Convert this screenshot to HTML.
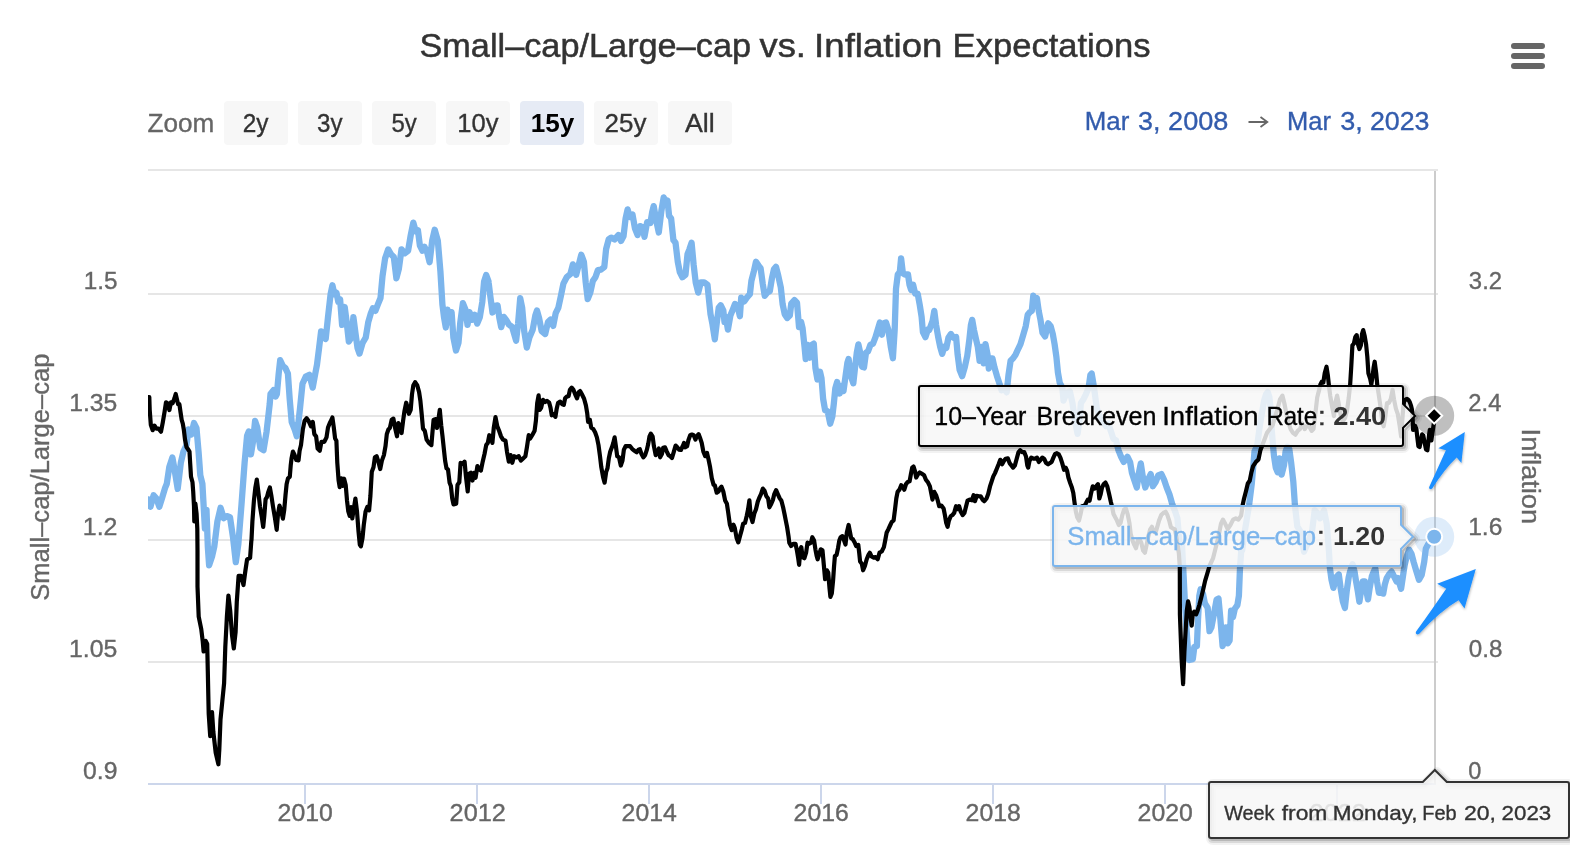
<!DOCTYPE html>
<html><head><meta charset="utf-8"><title>Small-cap/Large-cap vs. Inflation Expectations</title>
<style>html,body{margin:0;padding:0;background:#fff;overflow:hidden}svg{display:block;will-change:transform}text{font-family:"Liberation Sans",sans-serif}</style></head><body>
<svg width="1582" height="860" viewBox="0 0 1582 860">
<defs><clipPath id="plot"><rect x="148" y="160" width="1288" height="625"/></clipPath><filter id="ash" x="-20%" y="-20%" width="140%" height="140%"><feDropShadow dx="0.5" dy="1.5" stdDeviation="1.2" flood-color="#000000" flood-opacity="0.28"/></filter></defs>
<rect width="1582" height="860" fill="#ffffff"/>
<text x="419.46" y="56.8" font-size="33.6" fill="#333333" textLength="331.56" lengthAdjust="spacingAndGlyphs" stroke="#333333" stroke-width="0.5">Small–cap/Large–cap</text>
<text x="759.50" y="56.8" font-size="33.6" fill="#333333" textLength="46.46" lengthAdjust="spacingAndGlyphs" stroke="#333333" stroke-width="0.5">vs.</text>
<text x="814.13" y="56.8" font-size="33.6" fill="#333333" textLength="128.23" lengthAdjust="spacingAndGlyphs" stroke="#333333" stroke-width="0.5">Inflation</text>
<text x="952.61" y="56.8" font-size="33.6" fill="#333333" textLength="197.89" lengthAdjust="spacingAndGlyphs" stroke="#333333" stroke-width="0.5">Expectations</text>
<path d="M1514 46H1542M1514 56H1542M1514 66H1542" stroke="#666666" stroke-width="6" stroke-linecap="round" fill="none"/>
<text x="147.46" y="131.9" font-size="25.2" fill="#666666" textLength="66.78" lengthAdjust="spacingAndGlyphs" stroke="#666666" stroke-width="0.35">Zoom</text>
<rect x="224" y="101" width="64" height="44" rx="4" fill="#f7f7f7"/>
<text x="242.63" y="131.9" font-size="25.2" fill="#333333" textLength="25.79" lengthAdjust="spacingAndGlyphs" stroke="#333333" stroke-width="0.35">2y</text>
<rect x="298" y="101" width="64" height="44" rx="4" fill="#f7f7f7"/>
<text x="317.04" y="131.9" font-size="25.2" fill="#333333" textLength="25.48" lengthAdjust="spacingAndGlyphs" stroke="#333333" stroke-width="0.35">3y</text>
<rect x="372" y="101" width="64" height="44" rx="4" fill="#f7f7f7"/>
<text x="391.45" y="131.9" font-size="25.2" fill="#333333" textLength="25.28" lengthAdjust="spacingAndGlyphs" stroke="#333333" stroke-width="0.35">5y</text>
<rect x="446" y="101" width="64" height="44" rx="4" fill="#f7f7f7"/>
<text x="457.27" y="131.9" font-size="25.2" fill="#333333" textLength="41.15" lengthAdjust="spacingAndGlyphs" stroke="#333333" stroke-width="0.35">10y</text>
<rect x="520" y="101" width="64" height="44" rx="4" fill="#e6ebf5"/>
<text x="530.66" y="131.9" font-size="25.2" fill="#000000" textLength="43.57" lengthAdjust="spacingAndGlyphs" font-weight="bold">15y</text>
<rect x="594" y="101" width="64" height="44" rx="4" fill="#f7f7f7"/>
<text x="604.57" y="131.9" font-size="25.2" fill="#333333" textLength="41.84" lengthAdjust="spacingAndGlyphs" stroke="#333333" stroke-width="0.35">25y</text>
<rect x="668" y="101" width="64" height="44" rx="4" fill="#f7f7f7"/>
<text x="684.90" y="131.9" font-size="25.2" fill="#333333" textLength="29.76" lengthAdjust="spacingAndGlyphs" stroke="#333333" stroke-width="0.35">All</text>
<text x="1084.75" y="130.4" font-size="25.2" fill="#335cad" textLength="44.55" lengthAdjust="spacingAndGlyphs" stroke="#335cad" stroke-width="0.35">Mar</text>
<text x="1138.13" y="130.4" font-size="25.2" fill="#335cad" textLength="22.42" lengthAdjust="spacingAndGlyphs" stroke="#335cad" stroke-width="0.35">3,</text>
<text x="1168.12" y="130.4" font-size="25.2" fill="#335cad" textLength="60.30" lengthAdjust="spacingAndGlyphs" stroke="#335cad" stroke-width="0.35">2008</text>
<text x="1287.08" y="130.4" font-size="25.2" fill="#335cad" textLength="43.92" lengthAdjust="spacingAndGlyphs" stroke="#335cad" stroke-width="0.35">Mar</text>
<text x="1340.33" y="130.4" font-size="25.2" fill="#335cad" textLength="22.53" lengthAdjust="spacingAndGlyphs" stroke="#335cad" stroke-width="0.35">3,</text>
<text x="1369.94" y="130.4" font-size="25.2" fill="#335cad" textLength="59.58" lengthAdjust="spacingAndGlyphs" stroke="#335cad" stroke-width="0.35">2023</text>
<path d="M1248.5 122H1267M1260.5 117L1267.3 122L1260.5 127" stroke="#666666" stroke-width="1.8" fill="none"/>
<rect x="148" y="169" width="1290" height="2" fill="#e6e6e6"/>
<rect x="148" y="293" width="1290" height="2" fill="#e6e6e6"/>
<rect x="148" y="415" width="1290" height="2" fill="#e6e6e6"/>
<rect x="148" y="539" width="1290" height="2" fill="#e6e6e6"/>
<rect x="148" y="661" width="1290" height="2" fill="#e6e6e6"/>
<rect x="148" y="783" width="1288" height="2" fill="#ccd6eb"/>
<rect x="304" y="784" width="2" height="20" fill="#ccd6eb"/>
<text x="277.63" y="820.9" font-size="23.1" fill="#666666" textLength="55.18" lengthAdjust="spacingAndGlyphs" stroke="#666666" stroke-width="0.35">2010</text>
<rect x="476" y="784" width="2" height="20" fill="#ccd6eb"/>
<text x="449.60" y="820.9" font-size="23.1" fill="#666666" textLength="56.30" lengthAdjust="spacingAndGlyphs" stroke="#666666" stroke-width="0.35">2012</text>
<rect x="648" y="784" width="2" height="20" fill="#ccd6eb"/>
<text x="621.63" y="820.9" font-size="23.1" fill="#666666" textLength="55.18" lengthAdjust="spacingAndGlyphs" stroke="#666666" stroke-width="0.35">2014</text>
<rect x="820" y="784" width="2" height="20" fill="#ccd6eb"/>
<text x="793.63" y="820.9" font-size="23.1" fill="#666666" textLength="55.18" lengthAdjust="spacingAndGlyphs" stroke="#666666" stroke-width="0.35">2016</text>
<rect x="992" y="784" width="2" height="20" fill="#ccd6eb"/>
<text x="965.63" y="820.9" font-size="23.1" fill="#666666" textLength="55.18" lengthAdjust="spacingAndGlyphs" stroke="#666666" stroke-width="0.35">2018</text>
<rect x="1164" y="784" width="2" height="20" fill="#ccd6eb"/>
<text x="1137.63" y="820.9" font-size="23.1" fill="#666666" textLength="55.18" lengthAdjust="spacingAndGlyphs" stroke="#666666" stroke-width="0.35">2020</text>
<rect x="1336" y="784" width="2" height="20" fill="#ccd6eb"/>
<text x="1309.60" y="820.9" font-size="23.1" fill="#666666" textLength="56.30" lengthAdjust="spacingAndGlyphs" stroke="#666666" stroke-width="0.35">2022</text>
<text x="83.70" y="288.8" font-size="23.1" fill="#666666" textLength="33.77" lengthAdjust="spacingAndGlyphs" stroke="#666666" stroke-width="0.35">1.5</text>
<text x="69.26" y="410.8" font-size="23.1" fill="#666666" textLength="48.06" lengthAdjust="spacingAndGlyphs" stroke="#666666" stroke-width="0.35">1.35</text>
<text x="82.84" y="534.8" font-size="23.1" fill="#666666" textLength="34.66" lengthAdjust="spacingAndGlyphs" stroke="#666666" stroke-width="0.35">1.2</text>
<text x="69.05" y="656.8" font-size="23.1" fill="#666666" textLength="48.27" lengthAdjust="spacingAndGlyphs" stroke="#666666" stroke-width="0.35">1.05</text>
<text x="83.13" y="778.8" font-size="23.1" fill="#666666" textLength="34.36" lengthAdjust="spacingAndGlyphs" stroke="#666666" stroke-width="0.35">0.9</text>
<text x="1468.87" y="288.8" font-size="23.1" fill="#666666" textLength="33.18" lengthAdjust="spacingAndGlyphs" stroke="#666666" stroke-width="0.35">3.2</text>
<text x="1468.37" y="410.8" font-size="23.1" fill="#666666" textLength="33.04" lengthAdjust="spacingAndGlyphs" stroke="#666666" stroke-width="0.35">2.4</text>
<text x="1468.17" y="534.8" font-size="23.1" fill="#666666" textLength="34.21" lengthAdjust="spacingAndGlyphs" stroke="#666666" stroke-width="0.35">1.6</text>
<text x="1468.75" y="656.8" font-size="23.1" fill="#666666" textLength="33.61" lengthAdjust="spacingAndGlyphs" stroke="#666666" stroke-width="0.35">0.8</text>
<text x="1468.38" y="778.8" font-size="23.1" fill="#666666" textLength="13.08" lengthAdjust="spacingAndGlyphs" stroke="#666666" stroke-width="0.35">0</text>
<text x="-1.01" y="0" font-size="25.2" fill="#666666" textLength="247.06" lengthAdjust="spacingAndGlyphs" stroke="#666666" stroke-width="0.35" transform="translate(49.3,599.7) rotate(-90)">Small–cap/Large–cap</text>
<text x="-2.17" y="0" font-size="25.2" fill="#666666" textLength="95.59" lengthAdjust="spacingAndGlyphs" stroke="#666666" stroke-width="0.35" transform="translate(1522.3,430.7) rotate(90)">Inflation</text>
<rect x="1434" y="171" width="2" height="613" fill="#cccccc"/>
<g clip-path="url(#plot)" fill="none" stroke-linejoin="round" stroke-linecap="round">
<path d="M148.4 499.4 L150.5 506.7 L153.6 495.2 L156.3 498.3 L159.3 506.7 L162.0 498.3 L165.1 487.9 L166.8 483.7 L169.3 467.0 L172.4 457.5 L174.5 469.1 L177.7 488.9 L180.8 462.8 L183.5 451.3 L186.5 445.0 L188.5 429.3 L191.3 434.5 L194.0 423.0 L196.5 428.2 L198.6 452.3 L200.3 475.3 L202.4 483.7 L203.8 508.8 L204.9 528.7 L206.5 509.9 L207.8 546.5 L209.1 565.3 L212.2 555.9 L214.3 546.5 L217.4 521.4 L220.6 507.8 L223.7 518.2 L226.8 516.1 L230.0 517.2 L233.1 538.1 L235.8 562.2 L238.3 544.4 L241.5 504.6 L244.6 462.8 L247.1 435.6 L248.8 431.4 L250.9 454.4 L253.0 441.8 L255.1 420.9 L257.2 427.2 L260.3 448.1 L263.5 450.2 L266.6 431.4 L269.7 404.2 L270.5 394.0 L273.5 390.2 L275.6 396.6 L276.9 394.0 L278.7 373.5 L280.2 360.2 L282.8 365.9 L285.3 367.9 L287.9 373.5 L289.7 399.1 L291.7 422.1 L294.8 429.8 L296.8 436.2 L299.9 409.4 L302.5 383.8 L305.8 376.6 L309.4 374.8 L312.7 387.6 L315.3 373.5 L317.0 364.6 L319.1 347.9 L321.1 331.3 L323.7 333.9 L325.7 339.0 L328.0 317.2 L330.6 294.2 L332.4 285.3 L334.4 294.2 L336.5 292.9 L338.3 301.9 L340.1 299.3 L342.1 324.9 L344.7 307.0 L346.7 322.4 L348.8 341.5 L351.3 337.7 L353.4 317.2 L355.4 332.6 L357.5 347.9 L359.5 353.6 L362.6 342.8 L365.7 337.7 L368.2 322.4 L370.8 313.4 L372.8 308.3 L375.4 310.8 L377.9 304.4 L380.5 298.0 L382.5 276.3 L385.1 258.4 L388.2 249.4 L391.2 254.5 L393.8 257.1 L396.4 278.3 L398.9 268.6 L401.5 249.4 L404.8 253.3 L408.1 250.7 L410.7 235.4 L413.3 222.6 L415.8 231.5 L417.9 230.2 L419.9 245.6 L422.5 250.7 L424.5 246.9 L427.1 252.0 L429.6 262.2 L432.2 240.5 L434.7 229.7 L437.8 240.5 L440.4 271.2 L442.4 304.4 L444.0 317.2 L445.8 327.5 L447.5 309.6 L449.6 322.4 L451.6 312.1 L453.4 337.7 L456.0 350.5 L458.5 342.8 L460.3 322.4 L462.9 303.2 L465.5 309.6 L467.5 324.9 L469.5 312.1 L472.1 319.8 L474.7 314.7 L477.2 323.6 L479.8 317.2 L482.3 301.9 L484.1 281.4 L486.2 275.0 L488.5 281.4 L488.6 282.4 L490.5 297.7 L492.5 312.5 L495.1 305.9 L497.6 305.4 L499.4 318.2 L501.2 327.1 L503.8 316.9 L506.3 320.2 L508.9 324.6 L512.2 327.1 L514.0 333.5 L516.1 340.7 L518.1 323.3 L520.2 298.2 L522.2 307.9 L524.2 331.0 L526.8 347.6 L529.4 337.4 L532.7 329.7 L535.3 315.6 L537.0 310.5 L539.1 318.2 L541.6 331.0 L545.2 334.0 L548.0 322.0 L550.6 319.5 L553.2 325.9 L555.7 313.1 L558.3 307.9 L560.8 296.4 L563.4 283.6 L566.7 277.2 L570.3 274.2 L572.9 264.4 L576.2 274.7 L578.8 264.4 L581.3 254.7 L583.9 261.9 L585.7 282.4 L587.7 299.0 L590.3 292.6 L592.8 281.1 L595.4 277.2 L597.9 270.1 L601.0 269.6 L604.3 267.0 L606.1 249.1 L608.7 239.4 L611.2 237.6 L614.6 239.4 L618.4 235.0 L621.0 240.9 L623.5 236.3 L625.6 218.4 L627.6 209.4 L629.9 217.1 L632.5 214.5 L635.0 228.6 L637.6 235.0 L640.2 226.1 L642.7 227.3 L644.5 236.8 L647.1 222.2 L650.4 223.0 L652.2 212.0 L653.7 206.1 L656.3 220.9 L658.8 232.5 L661.4 210.7 L663.7 197.4 L665.8 203.0 L667.5 200.5 L669.1 215.8 L671.1 218.4 L673.4 240.1 L675.5 242.7 L677.8 261.9 L679.8 272.1 L682.4 277.2 L685.5 274.7 L687.5 254.2 L689.5 249.1 L691.6 242.7 L693.6 264.4 L695.7 282.4 L698.2 292.6 L700.8 282.4 L704.1 282.4 L707.5 284.9 L709.3 302.8 L710.5 314.2 L712.5 324.4 L714.8 339.3 L716.9 321.9 L718.7 307.8 L720.7 305.3 L723.3 310.4 L724.5 321.9 L725.8 316.8 L727.9 329.6 L730.4 315.5 L733.0 309.1 L735.0 304.0 L737.6 306.5 L739.9 316.3 L741.2 297.6 L744.2 301.4 L746.8 297.6 L749.9 294.2 L751.4 280.9 L754.0 270.7 L756.0 261.8 L758.6 265.6 L760.6 268.1 L762.7 283.5 L764.7 295.8 L767.3 292.5 L769.8 291.2 L771.9 278.4 L773.9 269.4 L776.0 266.9 L778.3 275.8 L780.8 287.3 L782.6 304.0 L784.7 314.2 L787.2 318.0 L789.8 315.5 L791.3 303.5 L794.4 300.1 L797.0 302.7 L799.0 327.0 L801.1 321.9 L802.6 328.3 L804.6 347.5 L805.7 359.0 L807.7 344.9 L809.8 357.7 L811.8 344.9 L813.8 343.6 L815.4 367.9 L817.4 379.5 L820.0 371.8 L821.5 378.2 L823.1 398.6 L825.1 410.2 L827.7 411.4 L830.2 423.7 L832.3 416.6 L833.8 403.8 L835.3 388.4 L837.1 382.0 L839.7 393.5 L841.5 385.9 L843.5 391.0 L845.6 375.6 L847.4 362.8 L848.6 359.0 L850.7 375.6 L853.3 383.3 L855.0 367.9 L856.8 352.6 L858.4 344.4 L860.2 352.6 L862.0 366.7 L864.0 367.4 L866.0 352.6 L868.1 351.3 L870.4 344.9 L873.0 343.6 L875.5 337.2 L878.1 328.3 L879.9 322.4 L881.9 334.7 L884.0 323.2 L886.0 322.4 L888.3 329.6 L890.9 347.5 L892.9 358.2 L894.7 329.6 L896.0 288.6 L897.8 274.5 L899.8 272.0 L901.1 258.4 L902.9 273.3 L904.9 274.5 L908.0 274.5 L909.5 284.8 L911.1 289.9 L913.1 284.8 L915.2 293.7 L917.7 293.7 L919.8 305.3 L921.6 316.8 L922.9 332.1 L925.4 337.2 L928.0 329.6 L929.2 330.1 L932.5 321.2 L934.3 310.9 L936.1 325.0 L938.1 336.5 L940.2 346.8 L942.2 353.9 L944.3 346.8 L946.3 348.0 L948.4 337.8 L950.9 334.0 L953.5 337.8 L956.1 337.0 L957.6 354.4 L959.6 369.8 L962.2 376.2 L964.8 367.2 L967.3 355.7 L969.4 339.1 L970.9 325.0 L972.2 319.9 L974.0 330.1 L976.0 339.1 L977.8 346.8 L979.6 360.8 L981.6 346.8 L983.7 363.4 L985.5 344.2 L987.5 354.4 L988.8 368.5 L990.6 358.3 L992.4 358.3 L994.4 367.2 L997.0 376.2 L999.6 383.9 L1001.6 390.3 L1004.2 389.0 L1006.7 392.3 L1008.5 374.9 L1010.6 360.8 L1013.1 358.3 L1015.7 354.4 L1018.0 349.3 L1020.5 344.2 L1023.1 335.3 L1025.7 326.3 L1027.7 314.8 L1029.8 312.2 L1031.8 310.9 L1033.3 295.6 L1035.4 303.3 L1036.9 298.1 L1038.7 310.9 L1040.5 319.9 L1042.5 332.7 L1045.1 336.5 L1046.9 328.9 L1048.2 323.2 L1050.7 326.3 L1052.8 334.0 L1054.6 344.2 L1056.4 357.0 L1057.9 372.4 L1059.7 382.6 L1062.3 387.7 L1063.5 400.5 L1066.6 392.8 L1069.9 391.5 L1072.5 403.1 L1075.0 421.0 L1077.6 433.8 L1079.4 421.0 L1080.9 403.1 L1083.5 399.2 L1086.0 394.1 L1088.6 387.7 L1090.4 374.9 L1091.7 373.6 L1093.2 382.6 L1094.7 392.8 L1096.8 408.2 L1099.4 415.9 L1102.4 421.0 L1105.8 426.1 L1108.3 423.5 L1110.9 431.2 L1113.4 438.9 L1116.0 440.2 L1118.5 450.4 L1121.1 456.8 L1123.7 461.9 L1127.4 456.8 L1130.1 462.1 L1131.9 472.8 L1134.1 479.5 L1136.8 487.5 L1138.9 472.8 L1140.8 463.4 L1142.6 475.5 L1145.3 487.5 L1147.5 480.8 L1150.7 474.1 L1152.8 486.2 L1155.5 482.2 L1158.2 475.5 L1161.4 474.1 L1164.0 479.5 L1166.7 487.5 L1169.4 494.2 L1172.1 503.6 L1174.7 510.3 L1177.4 518.3 L1179.0 537.0 L1180.6 558.4 L1182.0 543.7 L1183.1 566.0 L1184.6 595.8 L1186.5 629.3 L1188.1 651.6 L1189.1 660.0 L1192.8 659.1 L1194.3 647.0 L1196.9 646.0 L1198.0 620.0 L1199.3 595.8 L1200.6 589.3 L1203.0 594.0 L1204.9 603.3 L1207.7 607.9 L1209.5 631.2 L1211.4 627.4 L1214.2 612.6 L1216.6 599.5 L1218.5 598.6 L1220.3 618.1 L1222.6 646.0 L1224.4 640.5 L1225.9 627.4 L1227.8 643.3 L1229.6 640.5 L1231.1 610.7 L1233.0 617.2 L1234.8 608.8 L1237.4 605.1 L1238.9 595.8 L1240.0 567.9 L1241.2 551.2 L1242.2 550.4 L1243.8 537.0 L1246.5 521.0 L1249.1 504.9 L1251.8 483.5 L1254.5 451.4 L1257.2 445.6 L1259.5 428.1 L1261.9 413.0 L1264.2 400.2 L1266.0 394.4 L1267.7 392.1 L1269.3 396.7 L1270.5 407.2 L1271.6 428.1 L1273.0 445.6 L1274.0 456.0 L1275.8 467.7 L1277.7 472.3 L1279.5 458.4 L1281.6 474.7 L1284.0 465.3 L1285.6 451.4 L1287.4 446.7 L1289.3 449.1 L1291.2 463.0 L1293.3 481.6 L1294.9 504.9 L1297.3 526.3 L1300.5 531.7 L1304.0 551.7 L1308.0 542.4 L1312.0 531.7 L1314.7 510.3 L1317.4 512.9 L1320.0 518.3 L1324.0 510.3 L1326.7 523.6 L1328.9 550.4 L1329.9 567.8 L1331.5 579.8 L1333.4 587.9 L1336.1 577.2 L1338.8 574.5 L1340.6 587.9 L1342.8 601.2 L1344.9 607.9 L1346.8 590.5 L1348.7 577.2 L1350.1 571.6 L1352.6 564.3 L1354.5 571.6 L1356.1 581.4 L1357.8 591.2 L1359.4 601.7 L1361.0 591.2 L1362.7 581.4 L1364.8 581.4 L1366.4 591.2 L1368.0 599.3 L1369.7 587.9 L1371.8 576.5 L1373.7 571.6 L1375.3 568.4 L1377.0 581.4 L1378.9 592.8 L1381.0 592.8 L1383.2 593.6 L1384.8 584.6 L1386.7 578.1 L1389.2 574.1 L1391.6 571.6 L1394.1 576.5 L1396.5 581.4 L1398.1 578.1 L1399.8 584.6 L1401.1 588.7 L1402.7 578.1 L1404.6 565.1 L1407.1 555.3 L1409.2 549.7 L1411.5 553.7 L1413.6 561.9 L1416.0 570.0 L1419.0 579.8 L1421.7 574.9 L1424.2 561.9 L1425.8 548.8 L1428.3 544.0 L1433.5 536.6" stroke="#7cb5ec" stroke-width="6.3"/>
<path d="M148.2 397.1 L149.3 397.1 L149.7 409.8 L150.8 424.7 L152.7 430.2 L154.5 425.6 L156.4 428.7 L158.6 428.7 L161.0 431.7 L162.7 422.8 L164.6 411.6 L166.0 402.3 L167.5 403.3 L169.4 410.1 L170.9 402.3 L172.6 403.3 L174.4 398.6 L175.7 394.0 L177.2 400.5 L178.1 404.2 L179.4 404.2 L180.6 412.6 L181.7 420.0 L182.8 423.7 L183.9 430.2 L185.0 439.5 L186.5 447.0 L188.0 449.2 L189.5 451.6 L190.2 463.7 L191.0 476.7 L192.5 482.3 L193.2 491.6 L194.0 506.5 L194.3 521.4 L195.4 503.7 L196.6 514.0 L197.3 528.8 L197.5 550.2 L197.5 586.5 L198.7 616.7 L201.2 628.8 L202.7 640.9 L203.6 651.5 L205.7 640.9 L207.2 643.9 L207.8 671.1 L208.7 713.5 L210.2 736.1 L212.0 712.0 L213.3 731.6 L215.7 752.8 L218.4 764.3 L219.3 749.7 L220.5 719.5 L222.3 701.4 L224.1 683.2 L225.3 647.0 L226.9 616.7 L228.4 595.6 L230.2 610.7 L232.0 634.9 L233.8 648.5 L235.6 631.9 L236.8 601.6 L238.6 575.9 L241.1 575.9 L243.5 585.0 L245.3 571.4 L247.1 559.3 L250.1 557.8 L251.3 541.2 L251.5 540.0 L252.4 521.4 L253.9 500.9 L255.3 487.9 L256.8 479.5 L258.3 491.6 L260.0 506.5 L261.9 517.7 L263.2 527.0 L264.3 515.8 L265.6 499.1 L266.9 497.2 L268.4 491.6 L269.9 487.5 L271.3 495.3 L273.0 506.5 L274.9 517.7 L276.7 529.8 L278.0 514.0 L279.5 505.6 L281.0 510.2 L282.9 518.6 L284.2 510.2 L285.5 495.3 L286.6 484.2 L287.9 478.6 L289.8 476.7 L290.7 465.6 L291.6 458.1 L292.9 451.6 L294.4 454.4 L296.3 460.0 L298.5 460.4 L299.6 450.7 L301.0 445.1 L302.8 429.7 L304.6 420.8 L306.6 418.2 L308.8 421.3 L311.0 426.4 L312.8 421.9 L314.3 434.1 L316.1 436.3 L317.6 448.5 L319.8 450.7 L321.4 441.8 L324.3 441.8 L326.5 437.4 L328.0 427.5 L329.8 423.0 L331.5 419.7 L332.4 417.5 L333.8 427.5 L335.1 438.5 L336.4 440.7 L337.3 462.8 L338.6 480.5 L339.7 487.1 L341.3 478.3 L342.6 486.0 L344.1 478.7 L345.7 484.9 L347.0 500.4 L348.3 511.4 L349.7 515.9 L351.0 507.0 L352.3 518.5 L354.1 507.0 L355.4 498.6 L357.0 511.4 L358.5 531.3 L359.8 544.6 L360.9 546.4 L362.5 538.0 L363.8 524.7 L365.6 511.4 L367.3 507.0 L369.1 510.3 L370.4 496.0 L371.8 471.7 L373.5 467.2 L374.9 457.3 L376.6 456.2 L378.4 461.7 L380.2 469.0 L381.9 460.6 L383.9 455.1 L385.5 446.2 L386.8 434.1 L388.3 429.7 L389.9 427.9 L391.7 419.7 L393.4 418.6 L395.0 427.5 L397.0 436.3 L398.3 423.0 L400.1 426.4 L401.6 433.0 L403.1 420.8 L404.5 410.9 L406.2 402.7 L407.6 407.6 L408.9 413.8 L410.7 409.8 L412.0 394.3 L413.3 385.5 L415.1 382.2 L417.3 385.5 L419.1 392.1 L420.4 400.9 L421.7 414.2 L423.0 428.6 L424.8 430.8 L426.6 439.6 L428.8 442.9 L431.4 445.1 L432.5 431.9 L433.6 419.7 L435.9 419.1 L437.0 427.9 L438.5 418.6 L439.8 409.8 L441.2 425.2 L442.5 436.3 L443.8 448.5 L445.1 460.6 L446.5 468.3 L448.0 469.4 L449.6 482.7 L450.9 486.0 L452.2 498.2 L453.5 504.4 L456.2 503.7 L457.5 484.9 L459.3 482.3 L460.6 462.8 L462.8 463.9 L464.6 461.7 L465.9 476.1 L467.7 491.5 L469.0 473.9 L470.8 472.8 L472.5 480.5 L473.9 472.8 L475.6 477.8 L477.4 466.1 L479.2 469.4 L480.9 470.6 L482.7 461.7 L484.5 454.0 L486.2 445.1 L487.8 442.9 L489.3 435.2 L491.1 438.5 L492.4 442.9 L493.8 427.5 L495.5 417.1 L497.3 426.4 L499.1 430.8 L501.0 436.3 L503.0 439.6 L505.5 440.7 L507.0 451.8 L508.8 461.7 L510.6 455.1 L512.3 462.8 L514.1 456.2 L516.5 457.3 L518.7 456.2 L520.9 460.6 L523.1 458.4 L525.4 456.2 L526.9 447.3 L528.7 435.2 L530.2 438.5 L532.2 435.2 L534.6 430.8 L535.9 420.8 L537.2 403.1 L538.6 395.4 L539.9 409.8 L541.2 407.6 L543.0 399.8 L544.8 402.0 L547.0 400.9 L549.2 402.7 L550.5 407.6 L551.8 415.3 L553.6 414.2 L555.4 416.9 L556.7 408.7 L558.0 403.1 L560.2 401.6 L562.4 404.3 L563.8 404.9 L565.1 398.3 L566.9 396.5 L568.6 396.1 L569.9 389.9 L571.7 387.7 L573.5 389.9 L575.2 394.3 L577.0 398.3 L578.8 392.1 L580.1 391.0 L581.9 394.3 L584.1 398.7 L585.9 405.4 L587.2 413.1 L588.1 421.9 L589.8 419.7 L591.2 427.5 L593.4 429.2 L595.1 432.3 L596.9 437.4 L598.5 445.1 L600.0 456.2 L601.3 467.2 L603.1 477.2 L604.6 482.7 L606.2 471.7 L607.5 468.3 L608.8 458.4 L610.2 451.8 L611.9 447.3 L613.3 442.9 L614.6 437.4 L615.9 446.2 L617.2 456.2 L619.0 457.3 L620.8 465.5 L622.5 460.6 L623.9 449.6 L625.6 446.2 L627.8 446.2 L630.1 446.2 L632.3 449.1 L634.5 450.7 L636.7 452.2 L638.5 449.6 L639.8 449.1 L641.5 454.0 L643.3 457.3 L645.1 455.1 L646.9 449.6 L648.2 444.0 L649.5 436.3 L650.8 433.6 L652.6 436.3 L653.9 446.2 L655.7 455.1 L657.5 452.9 L658.8 448.5 L660.1 457.3 L661.9 454.0 L663.2 447.8 L665.0 447.3 L666.7 451.3 L668.5 455.1 L670.3 456.2 L672.0 458.0 L673.8 451.8 L675.6 445.6 L677.3 447.3 L679.1 449.6 L680.9 450.0 L682.7 446.2 L684.0 442.9 L685.3 447.3 L687.1 446.2 L688.4 440.3 L690.2 435.2 L691.9 434.5 L693.7 435.2 L695.5 439.6 L696.8 436.3 L698.6 434.1 L699.9 437.4 L701.7 442.9 L703.4 451.8 L705.2 456.2 L707.0 452.9 L708.3 458.4 L710.1 467.2 L711.8 478.3 L713.6 484.9 L714.9 485.4 L716.7 492.7 L718.5 491.5 L720.2 488.2 L721.5 486.7 L723.3 491.5 L725.1 500.4 L726.9 503.7 L728.2 512.5 L729.9 524.7 L731.7 530.2 L733.5 524.7 L734.8 528.0 L736.6 538.0 L738.3 542.4 L740.1 535.7 L741.9 529.1 L743.2 523.6 L745.0 522.9 L746.7 515.9 L748.1 509.2 L749.4 500.4 L750.7 515.9 L752.5 522.0 L754.3 513.6 L756.0 509.2 L757.8 501.5 L759.6 497.1 L761.0 494.1 L762.8 488.6 L764.6 490.8 L766.4 496.3 L768.1 498.5 L769.4 507.3 L771.2 504.0 L773.0 499.6 L774.3 494.1 L776.1 490.1 L777.8 494.1 L779.6 498.1 L781.4 500.7 L783.1 507.3 L784.5 514.0 L785.8 520.6 L787.1 527.2 L788.5 536.1 L789.3 542.7 L791.1 546.0 L793.3 543.8 L795.5 543.8 L796.9 550.4 L798.2 558.2 L799.1 564.8 L800.4 549.3 L801.3 547.1 L802.6 557.1 L804.4 558.2 L806.1 552.7 L807.5 542.7 L809.2 543.8 L811.0 542.7 L812.3 537.2 L814.1 540.5 L815.4 549.3 L816.7 556.0 L817.6 559.3 L819.4 553.8 L820.7 549.3 L822.5 550.4 L823.8 564.8 L825.1 579.2 L826.9 570.3 L828.2 572.5 L829.6 589.1 L830.4 596.9 L831.8 593.5 L833.1 580.3 L834.0 567.0 L834.9 556.0 L836.6 554.9 L838.0 548.2 L839.3 540.5 L840.6 537.2 L842.4 536.1 L844.1 540.5 L845.5 544.5 L846.8 532.8 L848.6 525.0 L849.9 531.7 L851.2 538.3 L853.0 539.4 L854.8 542.7 L856.1 546.0 L858.3 544.9 L859.2 552.7 L860.1 561.5 L861.8 563.7 L863.1 570.3 L864.9 565.9 L866.7 559.3 L868.5 554.9 L869.8 552.7 L871.5 556.4 L873.8 557.7 L875.5 557.1 L877.7 559.3 L879.5 552.7 L881.7 551.5 L883.9 547.1 L885.2 540.5 L886.6 532.8 L888.3 529.4 L890.1 525.5 L891.9 521.7 L893.6 520.6 L895.0 509.6 L896.3 498.5 L897.6 491.9 L899.4 489.7 L901.2 485.2 L902.9 487.0 L904.3 489.7 L906.0 484.1 L907.8 481.9 L909.6 481.3 L910.9 474.2 L912.2 467.6 L913.5 466.5 L914.9 470.9 L916.2 477.5 L918.0 474.2 L919.7 472.4 L921.9 473.8 L924.1 475.3 L925.9 479.7 L928.1 482.6 L929.9 486.4 L931.2 493.0 L932.5 499.6 L934.3 491.9 L936.1 495.2 L937.8 500.7 L939.2 506.2 L941.4 505.6 L943.6 508.5 L944.9 515.1 L946.2 522.8 L947.6 526.8 L948.9 520.6 L950.7 516.2 L952.4 515.1 L954.2 512.9 L956.0 506.2 L957.7 509.1 L959.1 506.2 L960.8 511.8 L962.6 515.1 L964.4 512.9 L966.1 506.2 L967.5 500.7 L969.7 499.6 L971.9 500.3 L973.6 495.2 L975.0 501.2 L976.7 495.9 L979.0 496.3 L980.7 496.3 L982.5 499.6 L984.3 501.2 L986.5 498.5 L988.2 494.1 L990.0 486.4 L991.5 481.9 L993.3 476.4 L995.0 473.1 L996.8 468.7 L998.6 464.3 L1000.3 459.8 L1002.1 464.3 L1003.9 460.9 L1005.6 458.7 L1007.8 458.3 L1009.6 463.1 L1011.4 465.4 L1013.1 467.6 L1014.9 465.4 L1016.7 458.7 L1018.5 452.1 L1020.2 450.3 L1022.0 452.1 L1024.2 452.1 L1026.0 456.5 L1027.3 465.4 L1028.2 467.6 L1029.5 460.9 L1031.3 457.6 L1033.5 458.7 L1035.2 458.7 L1037.0 457.6 L1038.8 462.0 L1040.6 459.8 L1042.3 457.6 L1044.1 458.7 L1045.9 462.7 L1048.1 464.3 L1049.8 463.1 L1051.6 462.0 L1053.4 457.6 L1055.1 453.9 L1056.9 453.2 L1058.7 454.3 L1060.4 457.6 L1062.2 463.1 L1064.0 469.8 L1065.7 467.6 L1067.1 470.9 L1068.4 477.5 L1070.2 483.0 L1071.9 487.5 L1073.3 493.0 L1074.6 502.9 L1075.9 511.8 L1077.2 517.3 L1079.0 520.6 L1080.6 514.0 L1082.1 506.2 L1084.3 506.2 L1086.1 502.9 L1087.8 499.6 L1089.6 500.7 L1090.9 494.1 L1092.7 486.4 L1094.5 488.6 L1096.2 486.4 L1098.0 484.1 L1099.3 498.5 L1100.7 494.1 L1102.0 487.5 L1103.8 484.1 L1105.5 482.6 L1107.3 486.4 L1109.1 494.1 L1110.8 501.8 L1112.2 507.3 L1113.5 514.0 L1115.2 517.3 L1117.0 520.6 L1118.8 525.0 L1120.6 522.8 L1122.3 515.1 L1124.1 509.6 L1125.9 508.5 L1127.6 514.0 L1129.4 522.8 L1130.7 533.9 L1132.5 540.5 L1134.3 544.9 L1136.0 548.2 L1137.8 540.5 L1139.6 539.4 L1141.3 542.7 L1143.1 550.4 L1144.9 552.7 L1146.6 544.9 L1148.4 536.1 L1150.2 529.4 L1151.9 526.8 L1153.7 531.7 L1155.5 532.8 L1157.2 527.2 L1159.0 520.6 L1161.2 515.1 L1163.4 512.9 L1165.6 511.8 L1167.4 515.1 L1169.2 520.6 L1170.9 527.2 L1172.7 528.3 L1174.9 529.4 L1176.2 536.1 L1177.6 544.9 L1178.9 553.8 L1179.8 567.0 L1179.9 614.4 L1181.6 659.1 L1183.1 684.2 L1184.4 651.6 L1185.7 629.3 L1186.8 610.7 L1188.1 601.4 L1189.4 607.0 L1190.6 618.1 L1191.7 625.6 L1192.8 614.4 L1194.3 611.6 L1196.1 614.4 L1197.6 610.7 L1199.3 605.1 L1201.2 597.7 L1203.0 590.2 L1205.1 580.9 L1207.3 573.5 L1209.5 566.0 L1213.0 558.4 L1215.7 547.7 L1218.4 537.0 L1221.0 523.6 L1222.9 519.6 L1225.1 523.6 L1227.7 529.0 L1230.4 525.0 L1233.1 519.6 L1235.8 518.3 L1238.4 519.6 L1241.1 515.6 L1242.7 504.9 L1243.8 499.6 L1245.9 491.5 L1247.8 483.5 L1249.7 480.8 L1251.3 472.8 L1253.1 466.1 L1255.8 462.1 L1258.5 459.4 L1260.4 450.1 L1262.0 446.1 L1264.2 440.2 L1267.0 432.8 L1269.8 429.1 L1272.6 425.3 L1275.3 416.0 L1278.1 406.7 L1280.0 399.3 L1282.4 395.6 L1284.3 403.0 L1286.5 414.2 L1288.7 423.5 L1290.6 429.1 L1293.0 432.8 L1295.4 434.7 L1297.7 430.9 L1299.9 429.1 L1302.3 423.5 L1304.7 429.1 L1307.0 425.3 L1309.2 426.3 L1311.6 430.9 L1313.5 429.1 L1315.3 414.2 L1317.2 397.4 L1319.1 390.0 L1320.4 384.4 L1321.9 381.6 L1323.3 382.6 L1324.7 373.3 L1326.5 366.7 L1327.8 375.1 L1328.9 385.3 L1330.2 395.6 L1332.1 406.7 L1334.0 416.0 L1335.3 403.0 L1337.1 395.6 L1338.6 403.0 L1340.5 414.2 L1342.7 421.6 L1345.1 417.9 L1347.0 410.5 L1348.8 397.4 L1350.1 385.3 L1351.3 365.8 L1352.4 345.3 L1353.9 343.5 L1355.3 337.0 L1356.7 335.1 L1358.0 344.4 L1359.4 349.1 L1360.9 345.3 L1362.0 334.2 L1363.2 330.1 L1364.7 336.0 L1366.1 344.4 L1367.3 356.5 L1368.4 373.3 L1370.2 378.8 L1371.3 384.4 L1372.5 377.0 L1373.6 367.7 L1374.7 361.7 L1376.2 373.3 L1377.3 385.3 L1378.6 393.7 L1380.5 406.7 L1382.3 421.6 L1383.6 426.3 L1385.1 417.9 L1387.0 403.0 L1388.8 403.0 L1390.7 399.3 L1392.6 390.0 L1394.0 399.3 L1395.9 408.6 L1397.8 414.2 L1399.6 425.3 L1401.1 436.5 L1402.2 421.6 L1403.3 406.7 L1404.1 401.4 L1405.6 399.6 L1407.0 398.8 L1408.6 400.2 L1409.8 402.2 L1411.1 405.9 L1411.9 409.5 L1412.5 414.4 L1412.7 418.5 L1412.8 422.6 L1413.0 427.5 L1413.1 429.9 L1413.5 428.3 L1415.1 425.8 L1416.4 429.1 L1417.3 437.2 L1418.4 446.2 L1419.6 447.0 L1420.8 440.5 L1422.1 434.4 L1423.3 435.6 L1424.5 442.1 L1426.0 449.4 L1427.4 450.3 L1428.2 442.9 L1429.0 435.6 L1429.8 429.9 L1430.6 435.6 L1431.4 440.5 L1432.2 434.0 L1433.1 428.3 L1433.9 422.6 L1434.3 415.7" stroke="#000000" stroke-width="4.2"/>
</g>
<circle cx="1434.2" cy="536.8" r="20" fill="#7cb5ec" fill-opacity="0.25"/>
<circle cx="1434.2" cy="415.7" r="20" fill="#000000" fill-opacity="0.25"/>
<circle cx="1434.2" cy="536.8" r="8" fill="#7cb5ec" stroke="#ffffff" stroke-width="2"/>
<path d="M1434.2 407.7L1442.2 415.7L1434.2 423.7L1426.2 415.7Z" fill="#000000" stroke="#ffffff" stroke-width="2"/>
<path d="M1211 782H1422.8L1434.8 770L1446.8 782H1567Q1569 782 1569 784V836Q1569 838 1567 838H1211Q1209 838 1209 836V784Q1209 782 1211 782Z" transform="translate(2,2)" fill="none" stroke="#000000" stroke-opacity="0.05" stroke-width="10" stroke-linejoin="round"/><path d="M1211 782H1422.8L1434.8 770L1446.8 782H1567Q1569 782 1569 784V836Q1569 838 1567 838H1211Q1209 838 1209 836V784Q1209 782 1211 782Z" transform="translate(2,2)" fill="none" stroke="#000000" stroke-opacity="0.1" stroke-width="6" stroke-linejoin="round"/><path d="M1211 782H1422.8L1434.8 770L1446.8 782H1567Q1569 782 1569 784V836Q1569 838 1567 838H1211Q1209 838 1209 836V784Q1209 782 1211 782Z" transform="translate(2,2)" fill="none" stroke="#000000" stroke-opacity="0.15" stroke-width="2" stroke-linejoin="round"/><path d="M1211 782H1422.8L1434.8 770L1446.8 782H1567Q1569 782 1569 784V836Q1569 838 1567 838H1211Q1209 838 1209 836V784Q1209 782 1211 782Z" fill="#f7f7f7" fill-opacity="0.85" stroke="#333333" stroke-width="2"/>
<text x="1224.20" y="819.9" font-size="21" fill="#333333" textLength="50.29" lengthAdjust="spacingAndGlyphs" stroke="#333333" stroke-width="0.35">Week</text>
<text x="1281.70" y="819.9" font-size="21" fill="#333333" textLength="45.69" lengthAdjust="spacingAndGlyphs" stroke="#333333" stroke-width="0.35">from</text>
<text x="1332.75" y="819.9" font-size="21" fill="#333333" textLength="84.90" lengthAdjust="spacingAndGlyphs" stroke="#333333" stroke-width="0.35">Monday,</text>
<text x="1422.20" y="819.9" font-size="21" fill="#333333" textLength="34.38" lengthAdjust="spacingAndGlyphs" stroke="#333333" stroke-width="0.35">Feb</text>
<text x="1463.90" y="819.9" font-size="21" fill="#333333" textLength="32.01" lengthAdjust="spacingAndGlyphs" stroke="#333333" stroke-width="0.35">20,</text>
<text x="1501.64" y="819.9" font-size="21" fill="#333333" textLength="49.63" lengthAdjust="spacingAndGlyphs" stroke="#333333" stroke-width="0.35">2023</text>
<path d="M1055 506H1399Q1401 506 1401 508V524.8L1413 536.8L1401 548.8V564Q1401 566 1399 566H1055Q1053 566 1053 564V508Q1053 506 1055 506Z" transform="translate(2,2)" fill="none" stroke="#000000" stroke-opacity="0.05" stroke-width="10" stroke-linejoin="round"/><path d="M1055 506H1399Q1401 506 1401 508V524.8L1413 536.8L1401 548.8V564Q1401 566 1399 566H1055Q1053 566 1053 564V508Q1053 506 1055 506Z" transform="translate(2,2)" fill="none" stroke="#000000" stroke-opacity="0.1" stroke-width="6" stroke-linejoin="round"/><path d="M1055 506H1399Q1401 506 1401 508V524.8L1413 536.8L1401 548.8V564Q1401 566 1399 566H1055Q1053 566 1053 564V508Q1053 506 1055 506Z" transform="translate(2,2)" fill="none" stroke="#000000" stroke-opacity="0.15" stroke-width="2" stroke-linejoin="round"/><path d="M1055 506H1399Q1401 506 1401 508V524.8L1413 536.8L1401 548.8V564Q1401 566 1399 566H1055Q1053 566 1053 564V508Q1053 506 1055 506Z" fill="#f7f7f7" fill-opacity="0.85" stroke="#7cb5ec" stroke-width="2"/>
<text x="1067.28" y="544.9" font-size="25.2" fill="#7cb5ec" textLength="248.67" lengthAdjust="spacingAndGlyphs" stroke="#7cb5ec" stroke-width="0.35">Small–cap/Large–cap</text>
<text x="1316.67" y="544.9" font-size="25.2" fill="#333333" textLength="8.17" lengthAdjust="spacingAndGlyphs" stroke="#333333" stroke-width="0.35">:</text>
<text x="1332.94" y="544.9" font-size="25.2" fill="#333333" textLength="52.16" lengthAdjust="spacingAndGlyphs" font-weight="bold">1.20</text>
<path d="M921 386H1401Q1403 386 1403 388V403.9L1415 415.9L1403 427.9V444Q1403 446 1401 446H921Q919 446 919 444V388Q919 386 921 386Z" transform="translate(2,2)" fill="none" stroke="#000000" stroke-opacity="0.05" stroke-width="10" stroke-linejoin="round"/><path d="M921 386H1401Q1403 386 1403 388V403.9L1415 415.9L1403 427.9V444Q1403 446 1401 446H921Q919 446 919 444V388Q919 386 921 386Z" transform="translate(2,2)" fill="none" stroke="#000000" stroke-opacity="0.1" stroke-width="6" stroke-linejoin="round"/><path d="M921 386H1401Q1403 386 1403 388V403.9L1415 415.9L1403 427.9V444Q1403 446 1401 446H921Q919 446 919 444V388Q919 386 921 386Z" transform="translate(2,2)" fill="none" stroke="#000000" stroke-opacity="0.15" stroke-width="2" stroke-linejoin="round"/><path d="M921 386H1401Q1403 386 1403 388V403.9L1415 415.9L1403 427.9V444Q1403 446 1401 446H921Q919 446 919 444V388Q919 386 921 386Z" fill="#f7f7f7" fill-opacity="0.85" stroke="#000000" stroke-width="2"/>
<text x="934.32" y="424.9" font-size="25.2" fill="#000000" textLength="92.10" lengthAdjust="spacingAndGlyphs" stroke="#000000" stroke-width="0.35">10–Year</text>
<text x="1036.61" y="424.9" font-size="25.2" fill="#000000" textLength="119.70" lengthAdjust="spacingAndGlyphs" stroke="#000000" stroke-width="0.35">Breakeven</text>
<text x="1162.21" y="424.9" font-size="25.2" fill="#000000" textLength="96.42" lengthAdjust="spacingAndGlyphs" stroke="#000000" stroke-width="0.35">Inflation</text>
<text x="1266.39" y="424.9" font-size="25.2" fill="#000000" textLength="50.77" lengthAdjust="spacingAndGlyphs" stroke="#000000" stroke-width="0.35">Rate</text>
<text x="1317.87" y="424.9" font-size="25.2" fill="#333333" textLength="8.17" lengthAdjust="spacingAndGlyphs" stroke="#333333" stroke-width="0.35">:</text>
<text x="1333.22" y="424.9" font-size="25.2" fill="#333333" textLength="53.00" lengthAdjust="spacingAndGlyphs" font-weight="bold">2.40</text>
<g fill="#1e8fff" filter="url(#ash)">
<path d="M1429.3 486.8L1445.9 450.2L1438.4 448.2L1464.8 432.1L1461.4 463L1456.7 457.5Q1445 468.5 1432.4 488.2Q1430.6 490 1429.3 488.6Q1428.8 487.8 1429.3 486.8Z"/>
<path d="M1416.1 631.6Q1433 608 1446.2 588.7L1437.2 583.7L1475.8 569L1464.5 608.6L1458.6 600.2Q1440 611 1419.3 633.8Q1417.4 635.2 1416.1 633.8Q1415.4 632.8 1416.1 631.6Z"/>
</g>
<rect x="1570" y="0" width="12" height="860" fill="#ffffff"/>
</svg></body></html>
